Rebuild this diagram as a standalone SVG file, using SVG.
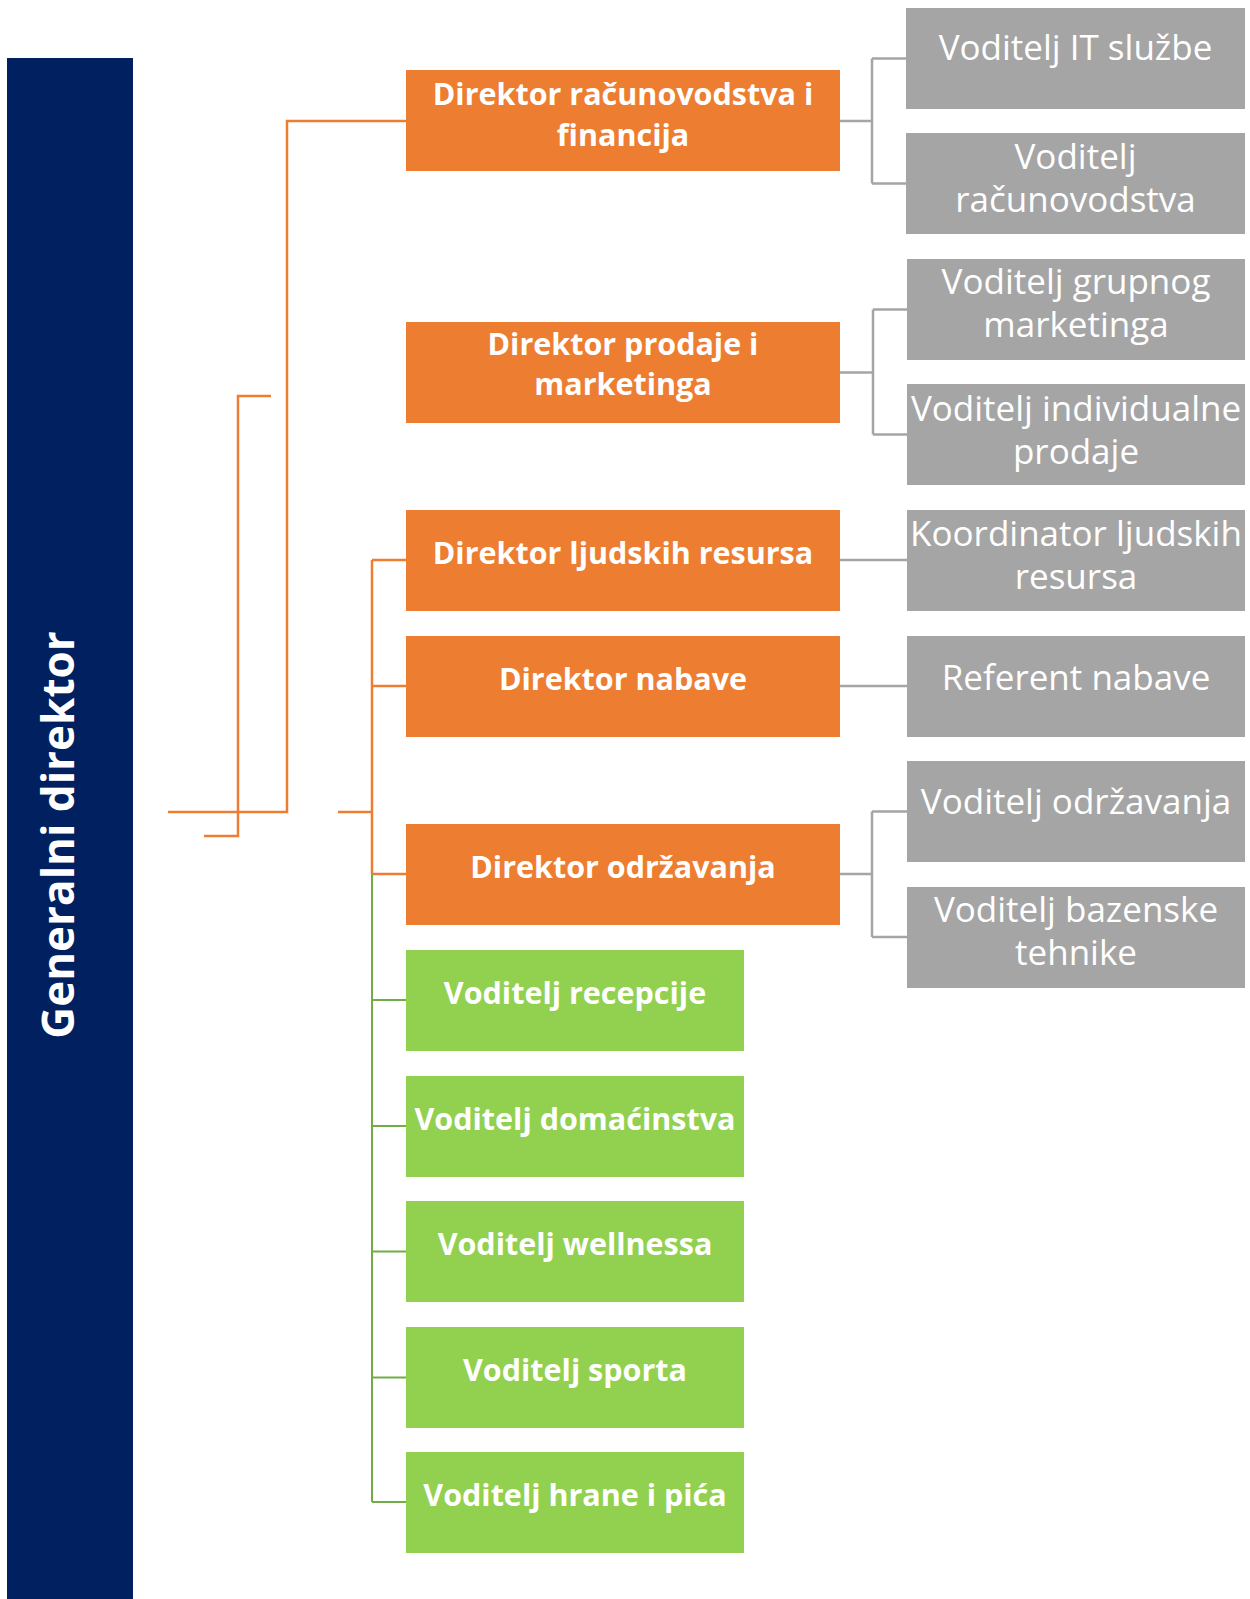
<svg xmlns="http://www.w3.org/2000/svg" width="1250" height="1599" viewBox="0 0 1250 1599">
<style>
.or{fill:#ED7D31}
.gr{fill:#92D050}
.gy{fill:#A5A5A5}
.tb{font-family:"Open Sans","Noto Sans","DejaVu Sans",sans-serif;font-weight:bold;font-size:30.5px;fill:#FFFFFF;text-anchor:middle}
.tr{font-family:"Open Sans","Noto Sans","DejaVu Sans",sans-serif;font-size:35px;fill:#FFFFFF;text-anchor:middle}
.lo{fill:none;stroke:#ED7D31;stroke-width:2.5}
.lg{fill:none;stroke:#70AD47;stroke-width:2}
.ly{fill:none;stroke:#A5A5A5;stroke-width:2.5}
</style>
<rect width="1250" height="1599" fill="#FFFFFF"/>
<g id="connectors">
<path class="lo" d="M168,812 H287 V121 H406"/>
<path class="lo" d="M271,396 H238 V836 H204"/>
<path class="lo" d="M338,812 H372 M372,560 V874 M372,560 H406 M372,686 H406 M372,874 H406"/>
<path class="lg" d="M372,874 V1502 M372,1000 H406 M372,1126 H406 M372,1251.5 H406 M372,1377.5 H406 M372,1502 H406"/>
<path class="ly" d="M839,121 H872 M872,58.5 V183.5 M872,58.5 H906 M872,183.5 H906"/>
<path class="ly" d="M840,372.5 H873 M873,309.5 V434.5 M873,309.5 H907 M873,434.5 H907"/>
<path class="ly" d="M840,560 H907 M840,686 H907"/>
<path class="ly" d="M840,874 H872 M872,811.5 V937 M872,811.5 H907 M872,937 H907"/>
</g>
<g id="generalni-direktor">
<rect x="7" y="58" width="126" height="1541" fill="#002060"/>
<text class="tb" style="font-size:44px" transform="translate(74,835) rotate(-90)">Generalni direktor</text>
</g>
<g id="dir-racunovodstva">
<rect class="or" x="406" y="70" width="434" height="101"/>
<text class="tb" x="623" y="104.5">Direktor računovodstva i</text>
<text class="tb" x="623" y="145.5">financija</text>
</g>
<g id="dir-prodaje">
<rect class="or" x="406" y="322" width="434" height="101"/>
<text class="tb" x="623" y="355">Direktor prodaje i</text>
<text class="tb" x="623" y="395">marketinga</text>
</g>
<g id="dir-ljudskih">
<rect class="or" x="406" y="510" width="434" height="101"/>
<text class="tb" x="623" y="563.5">Direktor ljudskih resursa</text>
</g>
<g id="dir-nabave">
<rect class="or" x="406" y="636" width="434" height="101"/>
<text class="tb" x="623" y="690">Direktor nabave</text>
</g>
<g id="dir-odrzavanja">
<rect class="or" x="406" y="824" width="434" height="101"/>
<text class="tb" x="623" y="878">Direktor održavanja</text>
</g>
<g id="vod-recepcije">
<rect class="gr" x="406" y="950" width="338" height="101"/>
<text class="tb" x="575" y="1004">Voditelj recepcije</text>
</g>
<g id="vod-domacinstva">
<rect class="gr" x="406" y="1076" width="338" height="101"/>
<text class="tb" x="575" y="1129.5">Voditelj domaćinstva</text>
</g>
<g id="vod-wellnessa">
<rect class="gr" x="406" y="1201" width="338" height="101"/>
<text class="tb" x="575" y="1254.5">Voditelj wellnessa</text>
</g>
<g id="vod-sporta">
<rect class="gr" x="406" y="1327" width="338" height="101"/>
<text class="tb" x="575" y="1380.5">Voditelj sporta</text>
</g>
<g id="vod-hrane">
<rect class="gr" x="406" y="1452" width="338" height="101"/>
<text class="tb" x="575" y="1505.5">Voditelj hrane i pića</text>
</g>
<g id="vod-it">
<rect class="gy" x="906" y="8" width="339" height="101"/>
<text class="tr" x="1075.5" y="60">Voditelj IT službe</text>
</g>
<g id="vod-racunovodstva">
<rect class="gy" x="906" y="133" width="339" height="101"/>
<text class="tr" x="1075.5" y="169">Voditelj</text>
<text class="tr" x="1075.5" y="212">računovodstva</text>
</g>
<g id="vod-grupnog">
<rect class="gy" x="907" y="259" width="338" height="101"/>
<text class="tr" x="1076" y="294">Voditelj grupnog</text>
<text class="tr" x="1076" y="337">marketinga</text>
</g>
<g id="vod-individualne">
<rect class="gy" x="907" y="384" width="338" height="101"/>
<text class="tr" x="1076" y="420.5">Voditelj individualne</text>
<text class="tr" x="1076" y="463.5">prodaje</text>
</g>
<g id="koordinator">
<rect class="gy" x="907" y="510" width="338" height="101"/>
<text class="tr" x="1076" y="546">Koordinator ljudskih</text>
<text class="tr" x="1076" y="589">resursa</text>
</g>
<g id="referent">
<rect class="gy" x="907" y="636" width="338" height="101"/>
<text class="tr" x="1076" y="689.5">Referent nabave</text>
</g>
<g id="vod-odrzavanja">
<rect class="gy" x="907" y="761" width="338" height="101"/>
<text class="tr" x="1076" y="813.5">Voditelj održavanja</text>
</g>
<g id="vod-bazenske">
<rect class="gy" x="907" y="887" width="338" height="101"/>
<text class="tr" x="1076" y="921.5">Voditelj bazenske</text>
<text class="tr" x="1076" y="965">tehnike</text>
</g>
</svg>
